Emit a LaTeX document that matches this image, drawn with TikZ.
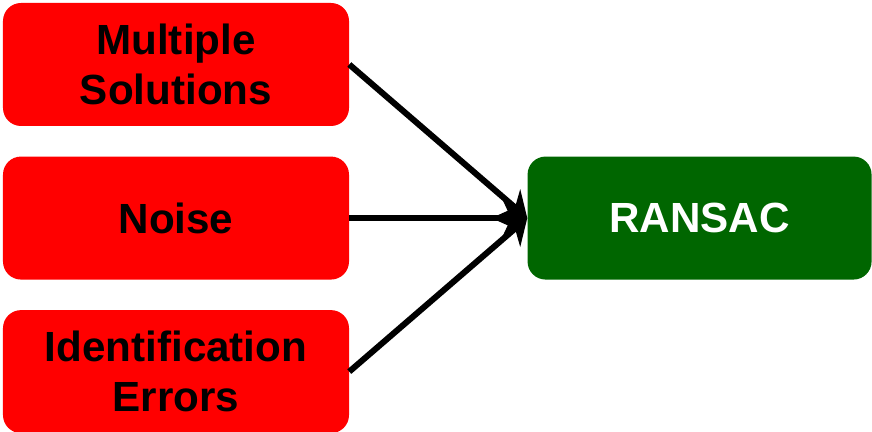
\documentclass[tikz,border=0pt]{standalone}
\usepackage{fontspec}
\setmainfont{Liberation Sans}
\usetikzlibrary{arrows.meta, positioning}
\definecolor{boxred}{HTML}{FF0000}
\definecolor{boxgreen}{HTML}{006600}

\begin{document}
\begin{tikzpicture}[
    node distance=0.75cm,
    box/.style={rectangle, rounded corners=0.45cm, minimum width=8.65cm, minimum height=3.075cm, align=center, inner sep=0pt, font=\fontsize{30}{35.5}\selectfont\bfseries},
    arrow/.style={-{Stealth[length=0.6cm, width=0.85cm]}, line width=4.3pt}
]
    \useasboundingbox (0,0) rectangle (21.8,10.8);

    % Problems
    \node[box, fill=boxred] (multiple) at (4.4,9.1875) {Multiple\\Solutions};
    \node[box, fill=boxred, below=of multiple] (noise) {Noise};
    \node[box, fill=boxred, below=of noise] (errors) {Identification\\Errors};

    % Method
    \node[box, fill=boxgreen, text=white, minimum width=8.6cm, right=4.45cm of noise] (ransac) {RANSAC};

    % Arrows
    \draw[arrow] (multiple.east) -- (ransac.west);
    \draw[arrow] (noise) -- (ransac);
    \draw[arrow] (errors.east) -- (ransac.west);
\end{tikzpicture}
\end{document}
